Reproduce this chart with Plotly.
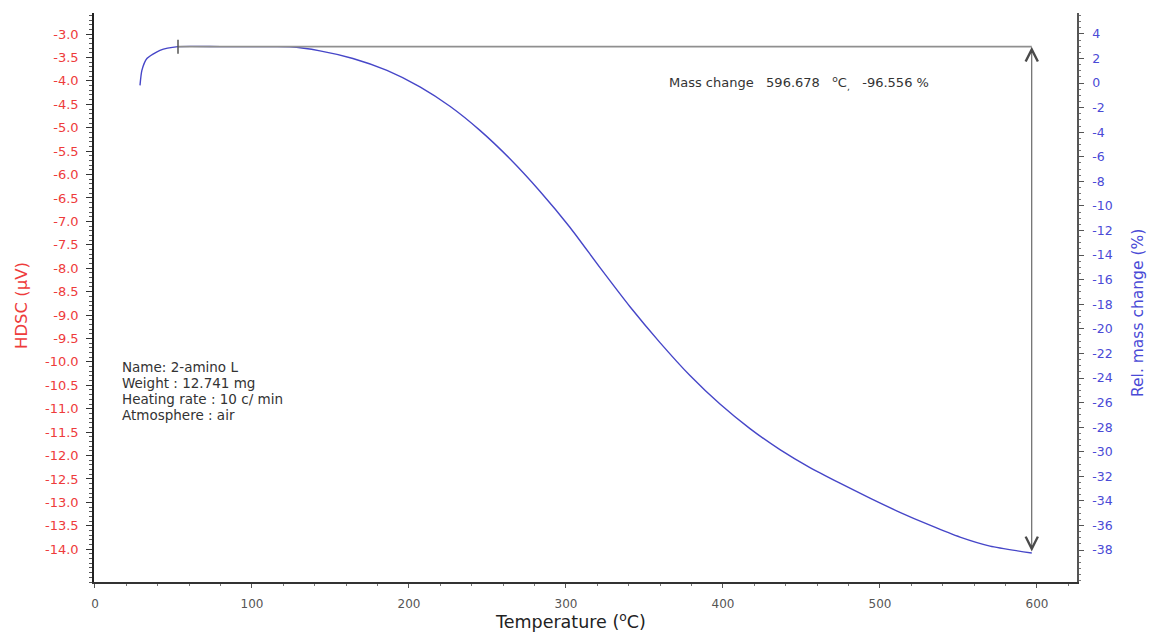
import plotly.graph_objects as go

# ---- data ----
temperature = [28.7, 29.9, 33.1, 41.4, 52.9, 80.0, 105.0, 124.2, 143.3, 164.3, 186.0, 207.0,
               226.1, 245.2, 264.3, 283.4, 302.5, 321.7, 340.8, 359.9, 379.0, 398.1, 417.2,
               436.3, 455.4, 474.5, 493.6, 512.7, 531.8, 551.0, 570.1, 596.7]
rel_mass = [-0.19, 1.03, 2.0, 2.66, 2.96, 2.96, 2.96, 2.95, 2.62, 2.0, 1.03, -0.31,
            -1.89, -3.85, -6.16, -8.80, -11.73, -15.02, -18.20, -21.12, -23.80, -26.12, -28.12,
            -29.83, -31.29, -32.56, -33.78, -34.93, -35.98, -36.95, -37.68, -38.24]

step_start_temp = 52.9
step_end_temp = 596.678
step_mass_top = 2.96
step_mass_bottom = -38.24

x_ticks = [0, 100, 200, 300, 400, 500, 600]
hdsc_ticks = [-3.0, -3.5, -4.0, -4.5, -5.0, -5.5, -6.0, -6.5, -7.0, -7.5, -8.0, -8.5, -9.0,
              -9.5, -10.0, -10.5, -11.0, -11.5, -12.0, -12.5, -13.0, -13.5, -14.0]
mass_ticks = [4, 2, 0, -2, -4, -6, -8, -10, -12, -14, -16, -18, -20, -22, -24, -26, -28,
              -30, -32, -34, -36, -38]

info_lines = ["Name: 2-amino L", "Weight : 12.741 mg", "Heating rate : 10 c/ min", "Atmosphere : air"]
nb = "\u00a0"
mass_change_text = ("Mass change" + nb * 3 + "596.678" + nb * 3 + "<sup>o</sup>C<sub>,</sub>"
                    + nb * 3 + "-96.556 %")

RED = "#ee3b3b"
BLUE = "#4a4ad6"
CURVE = "#4646c8"
GREY = "#8f8f8f"
FONT = "DejaVu Sans"

fig = go.Figure()

# dummy trace to activate left axis
fig.add_trace(go.Scatter(x=[None], y=[None], yaxis="y", showlegend=False, hoverinfo="skip"))

# TG curve
fig.add_trace(go.Scatter(
    x=temperature, y=rel_mass, yaxis="y2", mode="lines",
    line=dict(color=CURVE, width=1.4, shape="spline", smoothing=0.6),
    showlegend=False,
))

# horizontal step line
fig.add_trace(go.Scatter(
    x=[step_start_temp, step_end_temp], y=[step_mass_top, step_mass_top], yaxis="y2",
    mode="lines", line=dict(color=GREY, width=1.6), showlegend=False,
))
# start tick marker
fig.add_trace(go.Scatter(
    x=[step_start_temp], y=[step_mass_top], yaxis="y2", mode="markers",
    marker=dict(symbol="line-ns", size=10, line=dict(color="#555555", width=1.5)),
    showlegend=False,
))

fig.add_annotation(
    x=step_end_temp, y=step_mass_top, ax=step_end_temp, ay=step_mass_bottom,
    xref="x", yref="y2", axref="x", ayref="y2", text="", showarrow=True,
    arrowhead=5, startarrowhead=5, arrowside="end+start", arrowsize=2.4, startarrowsize=2.4,
    arrowwidth=1, arrowcolor="#4a4a4a", standoff=0, startstandoff=0,
)

fig.add_annotation(
    xref="paper", yref="paper", x=(667 - 94) / 983, y=(582 - 83) / 569,
    xanchor="left", yanchor="middle", text=mass_change_text, showarrow=False,
    font=dict(family=FONT, size=13, color="#333333"),
)

for i, line in enumerate(info_lines):
    fig.add_annotation(
        xref="paper", yref="paper", x=(120 - 94) / 983, y=(582 - (367 + 16 * i)) / 569,
        xanchor="left", yanchor="middle", align="left", text=line, showarrow=False,
        font=dict(family=FONT, size=13.5, color="#333333"),
    )

# axis titles
fig.add_annotation(
    xref="paper", yref="paper", x=(22 - 94) / 983, y=(582 - 306) / 569, textangle=-90,
    text="HDSC (µV)", showarrow=False, font=dict(family=FONT, size=16.5, color=RED),
    xanchor="center", yanchor="middle",
)
fig.add_annotation(
    xref="paper", yref="paper", x=(1138 - 94) / 983, y=(582 - 313) / 569, textangle=-90,
    text="Rel. mass change (%)", showarrow=False, font=dict(family=FONT, size=15.5, color=BLUE),
    xanchor="center", yanchor="middle",
)
fig.add_annotation(
    xref="paper", yref="paper", x=(570 - 94) / 983, y=(582 - 621) / 569,
    text="Temperature (<sup>o</sup>C)", showarrow=False,
    font=dict(family=FONT, size=17.5, color="#222222"), xanchor="center", yanchor="middle",
)

fig.update_layout(
    width=1152, height=632,
    margin=dict(l=94, r=75, t=13, b=50),
    paper_bgcolor="white", plot_bgcolor="white",
    xaxis=dict(
        range=[-0.6, 625.5], tickvals=x_ticks, ticktext=[str(v) for v in x_ticks],
        showgrid=False, zeroline=False, showline=True, linecolor="#333333", linewidth=1.5,
        ticks="outside", ticklen=4, tickcolor="#555555", ticklabelstandoff=6,
        tickfont=dict(family=FONT, size=12, color="#555555"),
        minor=dict(dtick=20, ticklen=2, tickcolor="#777777", ticks="outside", showgrid=False),
    ),
    yaxis=dict(
        range=[-14.7, -2.55], tickvals=hdsc_ticks, ticktext=["%.1f" % v for v in hdsc_ticks],
        showgrid=False, zeroline=False, showline=True, linecolor="#222222", linewidth=1.5,
        ticks="outside", ticklen=6, tickcolor="#333333", ticklabelstandoff=5,
        tickfont=dict(family=FONT, size=13, color=RED),
        minor=dict(dtick=0.1, tick0=0, ticklen=3, tickcolor="#555555", ticks="outside", showgrid=False),
    ),
    yaxis2=dict(
        range=[-40.6, 5.7], overlaying="y", side="right", anchor="x",
        tickvals=mass_ticks, ticktext=[str(v) for v in mass_ticks],
        showgrid=False, zeroline=False, showline=True, linecolor="#555555", linewidth=1.5,
        ticks="outside", ticklen=5, tickcolor="#555555", ticklabelstandoff=6,
        tickfont=dict(family=FONT, size=12.5, color=BLUE),
        minor=dict(dtick=0.5, tick0=0, ticklen=2.5, tickcolor="#777777", ticks="outside", showgrid=False),
    ),
)

fig.write_html("out.html")
